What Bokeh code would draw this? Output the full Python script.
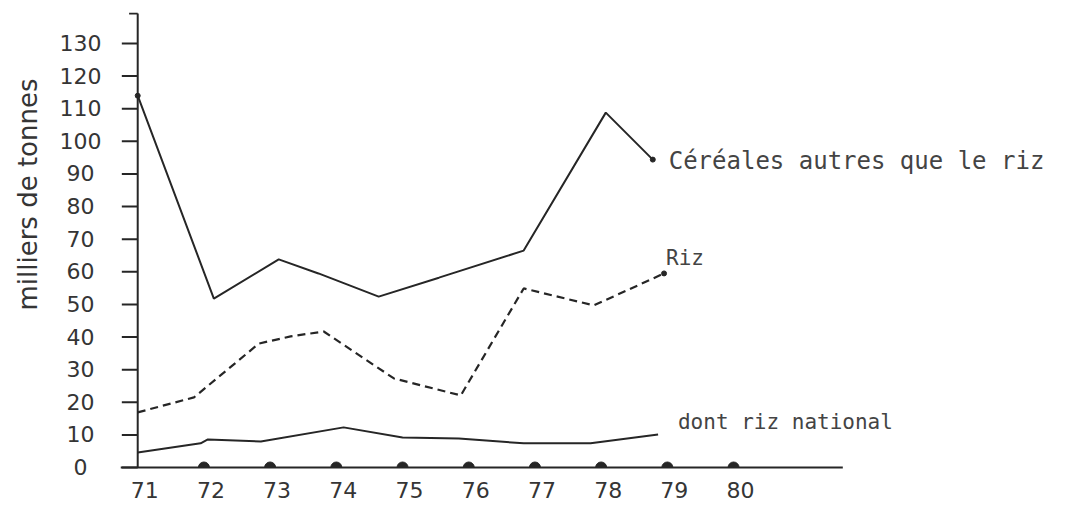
import math
from bokeh.plotting import figure
from bokeh.models import Range1d, FixedTicker, Label, Title
from bokeh.embed import file_html
from bokeh.resources import INLINE

# --- data ---
cereales_x = [71.0, 72.15, 73.13, 73.73, 74.64, 75.55, 76.83, 78.07, 78.78]
cereales_y = [114.0, 51.8, 63.8, 59.5, 52.4, 58.2, 66.5, 108.8, 94.4]

riz_x = [71.0, 71.85, 72.83, 73.31, 73.81, 74.87, 75.88, 76.83, 77.89, 78.95]
riz_y = [16.9, 21.5, 38.0, 40.2, 41.7, 27.3, 22.1, 54.9, 49.7, 59.5]

national_x = [71.0, 71.95, 72.06, 72.86, 74.11, 75.0, 75.85, 76.83, 77.84, 78.86]
national_y = [4.6, 7.4, 8.6, 8.0, 12.3, 9.2, 8.9, 7.4, 7.4, 10.1]

years = [71, 72, 73, 74, 75, 76, 77, 78, 79, 80]
dot_years = [72, 73, 74, 75, 76, 77, 78, 79, 80]
y_ticks = list(range(0, 140, 10))

label_cereales = "Céréales autres que le riz"
label_riz = "Riz"
label_national = "dont riz national"
y_title = "milliers de tonnes"

# axis extents (data units)
x_axis_start, x_axis_end = 70.74, 81.65
y_axis_top = 139.2

INK = "#262626"
TXT = "#353535"

p = figure(width=1080, height=507, output_backend="svg", toolbar_location=None,
           x_range=Range1d(70.74, 85.21), y_range=Range1d(-0.613, 139.5),
           min_border_left=120, min_border_right=2, min_border_top=12,
           min_border_bottom=38)
p.outline_line_color = None
p.grid.visible = False
p.background_fill_color = "white"
p.border_fill_color = "white"

# x axis (labels only; the line is drawn as a glyph so it can overhang)
xa = p.xaxis[0]
xa.ticker = FixedTicker(ticks=years)
xa.major_label_overrides = {y: "\u2007" + str(y) for y in years}
xa.axis_line_color = None
xa.major_tick_out = 0
xa.major_tick_in = 0
xa.minor_tick_out = 0
xa.minor_tick_in = 0
xa.major_label_text_font = "DejaVu Sans"
xa.major_label_text_font_size = "22px"
xa.major_label_text_color = TXT
xa.major_label_standoff = 8

# y axis (labels only)
ya = p.yaxis[0]
ya.ticker = FixedTicker(ticks=y_ticks)
pad = {1: "\u2007", 2: "\u2008", 3: ""}
ya.major_label_overrides = {t: str(t) + pad[len(str(t))] for t in y_ticks}
ya.axis_line_color = None
ya.major_tick_out = 0
ya.major_tick_in = 0
ya.minor_tick_out = 0
ya.minor_tick_in = 0
ya.major_label_text_font = "DejaVu Sans"
ya.major_label_text_font_size = "22px"
ya.major_label_text_color = TXT
ya.major_label_standoff = 19

# axis lines and y tick marks
p.segment(x0=[x_axis_start], y0=[0], x1=[x_axis_end], y1=[0], line_width=2, line_color=INK)
p.segment(x0=[71], y0=[0], x1=[71], y1=[y_axis_top], line_width=2, line_color=INK)
p.segment(x0=[70.76] * len(y_ticks), y0=y_ticks, x1=[71] * len(y_ticks), y1=y_ticks,
          line_width=2, line_color=INK)
p.segment(x0=[70.87], y0=[y_axis_top], x1=[71], y1=[y_axis_top], line_width=2, line_color=INK)

# series
p.line(cereales_x, cereales_y, line_width=2, line_color=INK)
p.line(riz_x, riz_y, line_width=2.2, line_color=INK, line_dash="8 5")
p.line(national_x, national_y, line_width=2, line_color=INK)

p.scatter([cereales_x[0], cereales_x[-1]], [cereales_y[0], cereales_y[-1]],
          size=5, color=INK)
p.scatter([riz_x[-1]], [riz_y[-1]], size=5, color=INK)

# semicircle markers on the x axis
p.wedge(x=dot_years, y=[0] * len(dot_years), radius=5.5, radius_units="screen",
        start_angle=0, end_angle=math.pi, color=INK)

# annotations
p.add_layout(Label(x=79.02, y=94.1, text=label_cereales, text_font="DejaVu Sans Mono",
                   text_font_size="24px", text_color="#444444", text_baseline="middle"))
p.add_layout(Label(x=78.98, y=64.1, text=label_riz, text_font="DejaVu Sans Mono",
                   text_font_size="21px", text_color="#444444", text_baseline="middle"))
p.add_layout(Label(x=79.16, y=14.1, text=label_national, text_font="DejaVu Sans Mono",
                   text_font_size="21px", text_color="#444444", text_baseline="middle"))

# y title on the left, placed high like the reference
p.add_layout(Title(text=y_title, text_font="DejaVu Sans", text_font_size="26px",
                   text_font_style="normal", text_color=TXT, align="right",
                   vertical_align="top", offset=66, standoff=24), "left")

open("out.html", "w").write(file_html(p, INLINE))
